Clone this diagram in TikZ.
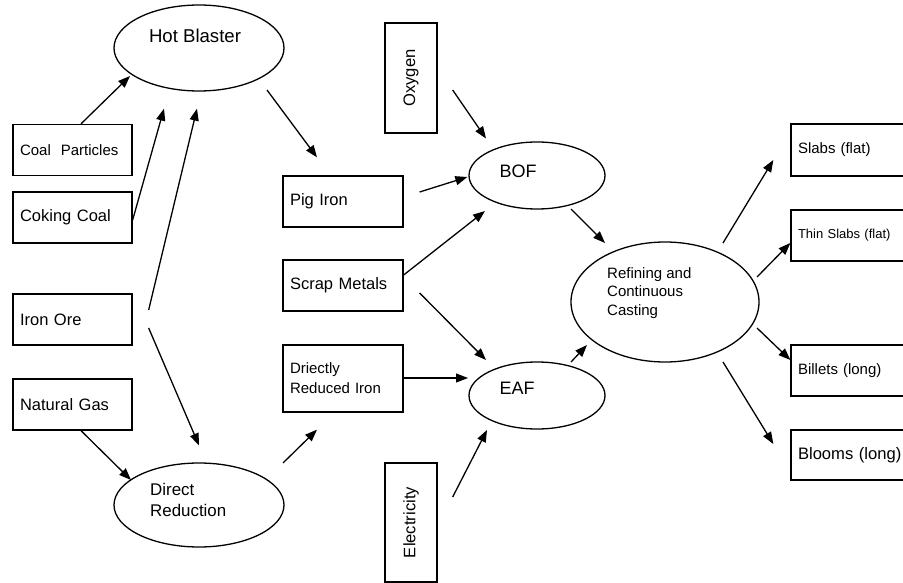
\documentclass[tikz,border=0pt]{standalone}
\usepackage{fontspec}
\setmainfont{Liberation Sans}
\usepackage{graphicx}
\usetikzlibrary{arrows.meta,shapes.geometric}
\begin{document}
\begin{tikzpicture}[x=1pt,y=-1pt,
  box/.style={draw, line width=1.3pt, rectangle, inner xsep=7pt, inner ysep=0pt,
    minimum height=51pt, text width=105pt, align=left, font=\fontsize{16.5}{19}\selectfont},
  vbox/.style={draw, line width=1.3pt, rectangle, inner sep=0pt, minimum width=52pt,
    font=\fontsize{16.6}{19}\selectfont},
  ell/.style={draw, ellipse, line width=1.3pt, inner sep=0pt},
  lbl/.style={inner sep=0pt},
  arr/.style={-{Triangle[length=12pt,width=9pt]}, line width=1.3pt}]
\useasboundingbox (0,0) rectangle (903,583);
\clip (0,0) rectangle (903,583);
\fill[white] (0,0) rectangle (903,583);
% left column
\node[box, font=\fontsize{15}{18}\selectfont] (cp) at (72.5,150) {Coal\ \ Particles};
\node[box] (cc) at (72.5,217.5) {Coking Coal};
\node[box] (io) at (72.5,319.5) {Iron Ore};
\node[box] (ng) at (72.5,404.5) {Natural Gas};
% hot blaster / direct reduction
\node[ell, minimum width=170pt, minimum height=86pt] (hb) at (199,48) {};
\node[lbl, anchor=base, font=\fontsize{18.6}{22}\selectfont] (hbt) at (195,43) {Hot Blaster};
\node[ell, minimum width=170pt, minimum height=84pt] (dr) at (199,505) {};
\node[lbl, anchor=west, align=left, font=\fontsize{16.9}{21}\selectfont] (drt) at (150,500) {Direct\\Reduction};
% middle column
\node[vbox, minimum height=110pt] (ox) at (411,78) {\rotatebox{90}{Oxygen}};
\node[box, text width=106pt] (pi) at (343,201.5) {Pig Iron};
\node[box, text width=106pt] (sm) at (343,285.5) {Scrap Metals};
\node[box, text width=106pt, minimum height=67pt, font=\fontsize{15}{20}\selectfont] (dri) at (343,378.5) {Driectly\\Reduced Iron};
\node[vbox, minimum height=119pt] (el) at (411,522.5) {\rotatebox{90}{Electricity}};
% furnaces
\node[ell, minimum width=136pt, minimum height=67pt] (bof) at (537,175.5) {};
\node[lbl, font=\fontsize{18}{22}\selectfont] (boft) at (518,171) {BOF};
\node[ell, minimum width=136pt, minimum height=67pt] (eaf) at (537,395.5) {};
\node[lbl, font=\fontsize{18}{22}\selectfont] (eaft) at (517,388) {EAF};
\node[ell, minimum width=188pt, minimum height=120pt] (rcc) at (665,302) {};
\node[lbl, anchor=west, align=left, font=\fontsize{15}{18.5}\selectfont] (rcct) at (607,293) {Refining and\\Continuous\\Casting};
% products
\node[box, text width=106pt, minimum height=52pt, font=\fontsize{15}{18}\selectfont] (sl) at (851,150) {Slabs (flat)};
\node[box, text width=106pt, font=\fontsize{13}{16}\selectfont] (ts) at (851,235.5) {Thin Slabs (flat)};
\node[box, text width=106pt, font=\fontsize{15}{18}\selectfont] (bi) at (851,370.5) {Billets (long)};
\node[box, text width=106pt, minimum height=50pt, font=\fontsize{16.6}{19}\selectfont] (bl) at (851,455) {Blooms (long)};
% connectors
\draw[arr] ([shift={(8.5,0)}]cp.north) -- ([shift={(-69,28)}]hb.center);
\draw[arr] ([shift={(0,2.5)}]cc.east) -- ([shift={(-35,17)}]hb.south);
\draw[arr] ([shift={(16,-9.5)}]io.east) -- ([shift={(-2,17)}]hb.south);
\draw[arr] ([shift={(16,8.5)}]io.east) -- ([shift={(0,-17)}]dr.north);
\draw[arr] ([shift={(8.5,0)}]ng.south) -- ([shift={(-68,-25)}]dr.center);
\draw[arr] ([shift={(68,42)}]hb.center) -- ([shift={(-26,-18)}]pi.north);
\draw[arr] ([shift={(15,12)}]ox.east) -- ([shift={(-51,-37)}]bof.center);
\draw[arr] ([shift={(16,-9.5)}]pi.east) -- ([shift={(-1,1.5)}]bof.west);
\draw[arr] ([shift={(0,-10.5)}]sm.east) -- ([shift={(-52,35.5)}]bof.center);
\draw[arr] ([shift={(16,7.5)}]sm.east) -- ([shift={(-51,-35.5)}]eaf.center);
\draw[arr] ([shift={(0,-0.5)}]dri.east) -- ([shift={(-69,-17.5)}]eaf.center);
\draw[arr] ([shift={(84,-42)}]dr.center) -- ([shift={(-26,17)}]dri.south);
\draw[arr] ([shift={(15,-25.5)}]el.east) -- ([shift={(-50,34.5)}]eaf.center);
\draw[arr] ([shift={(34,33.5)}]bof.center) -- ([shift={(-60,-59)}]rcc.center);
\draw[arr] ([shift={(34,-33.5)}]eaf.center) -- ([shift={(-78,43)}]rcc.center);
\draw[arr] ([shift={(58,-59)}]rcc.center) -- ([shift={(-17,10)}]sl.west);
\draw[arr] ([shift={(92,-25)}]rcc.center) -- ([shift={(0,7.5)}]ts.west);
\draw[arr] ([shift={(92,26)}]rcc.center) -- ([shift={(0,-10.5)}]bi.west);
\draw[arr] ([shift={(58,60)}]rcc.center) -- ([shift={(-17,-11)}]bl.west);
\end{tikzpicture}
\end{document}
